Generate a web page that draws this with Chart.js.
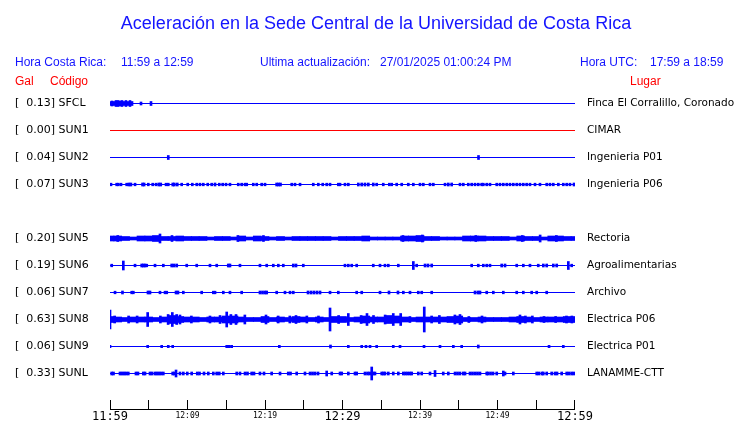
<!DOCTYPE html>
<html><head><meta charset="utf-8">
<script src="https://cdn.jsdelivr.net/npm/chart.js@4.4.1/dist/chart.umd.min.js"></script>
<style>html,body{margin:0;padding:0;background:#fff;}#wrap{width:740px;height:423px;}</style>
</head><body><div id="wrap"><canvas id="c" width="740" height="423"></canvas></div>
<script>
// ---------- DATA ----------
const title = 'Aceleración en la Sede Central de la Universidad de Costa Rica';
const headerLocal = ['Hora Costa Rica:', '11:59 a 12:59'];
const headerUpdate = ['Ultima actualización:', '27/01/2025 01:00:24 PM'];
const headerUtc = ['Hora UTC:', '17:59 a 18:59'];
const colHeads = ['Gal', 'Código', 'Lugar'];

const stations = ['SFCL','SUN1','SUN2','SUN3','SUN5','SUN6','SUN7','SUN8','SUN9','SUNL'];
const slots    = [0, 1, 2, 3, 5, 6, 7, 8, 9, 10];
const galPeaks = [0.13, 0.00, 0.04, 0.07, 0.20, 0.19, 0.06, 0.63, 0.06, 0.33];
const places   = ['Finca El Corralillo, Coronado','CIMAR','Ingenieria P01','Ingenieria P06','Rectoria','Agroalimentarias','Archivo','Electrica P06','Electrica P01','LANAMME-CTT'];
const timeLabels = ['11:59','12:09','12:19','12:29','12:39','12:49','12:59']; // every 10 min
const windowMinutes = 60;

// trace events: [minute after 11:59, half amplitude (counts)]
const sfclEvents = [[0,2],[0.26,2.5],[0.52,2],[0.77,3],[1.03,3],[1.29,2.5],[1.55,3],[1.81,2],[2.06,3],[2.32,2],[2.58,3],[2.84,2],[4.0,1.5],[5.29,2]];
const sun1Events = [];
const sun2Events = [[7.52,2],[47.55,2]];
const sun3Events = [[0.13,1.3],[0.86,1.3],[1.07,1.3],[1.42,1.3],[2.15,1.3],[2.45,1.5],[2.7,1.5],[3.23,1.3],[4.2,1.5],[4.4,1.5],[4.94,1.3],[5.51,1.3],[5.94,1.3],[6.3,1.5],[6.55,1.5],[7.23,1.3],[7.52,1.3],[8.1,1.5],[8.3,1.5],[8.68,1.5],[9.25,1.3],[10.03,1.3],[10.62,1.3],[11.19,1.3],[11.61,1.3],[12.04,1.3],[12.61,1.3],[13.12,1.3],[13.55,1.5],[14.1,1.3],[14.54,1.3],[14.97,1.3],[15.48,1.3],[16.55,1.3],[16.99,1.3],[17.42,1.3],[17.64,1.3],[18.49,1.3],[18.93,1.3],[19.57,1.3],[20.0,1.3],[21.5,1.5],[21.75,1.5],[22.0,1.5],[23.45,1.3],[23.87,1.3],[24.52,1.3],[26.23,1.3],[26.88,1.3],[27.45,1.3],[27.96,1.3],[28.39,1.3],[29.46,1.3],[29.68,1.3],[30.32,1.3],[30.75,1.3],[32.04,1.5],[32.48,1.5],[32.9,1.5],[33.33,1.5],[33.97,1.5],[34.41,1.3],[35.26,1.3],[36.04,1.3],[36.35,1.3],[36.99,1.3],[37.64,1.3],[38.49,1.3],[39.14,1.3],[40.0,1.3],[40.43,1.3],[41.29,1.3],[41.72,1.3],[43.23,1.3],[43.65,1.5],[44.09,1.5],[45.16,1.3],[45.59,1.3],[46.23,1.3],[46.67,1.3],[47.1,1.3],[47.52,1.3],[47.96,1.3],[48.17,1.3],[48.61,1.3],[49.03,1.3],[49.9,1.3],[50.32,1.3],[50.75,1.3],[51.19,1.3],[51.61,1.3],[52.04,1.3],[52.48,1.3],[52.9,1.3],[53.33,1.3],[53.76,1.3],[54.19,1.3],[54.84,1.3],[55.48,1.3],[56.35,1.3],[56.77,1.3],[57.2,1.3],[57.85,1.3],[58.49,1.3],[58.93,1.3],[59.35,1.3],[59.87,1.5]];
const sun5Envelope = [2.5,2.5,2,1.5,2.5,2.5,3,2,2,2.5, 2,2,2,1.5,2,2,1.5,2.5,1.5,2.5, 2,1.5,2,1.5,2,2,2,2,2,1.5, 2,2,2,2.5,1.5,1.5,1.5,1.5,2.5,2.5, 3,2,2,1.5,1.5,1.5,2.5,2.5,2.5,2, 2,2,1.5,2.5,2,2,1.5,2.5,2.5,2, 2];
const sun5Events = [[1.0,3],[6.45,4.5],[8.0,3],[16.5,3],[19.8,3],[37.8,3],[40.3,3.5],[47.2,3],[53.2,3],[55.5,3.5],[57.6,3]];
const sun6Events = [[0.22,1.3],[1.72,4.5],[3.23,1.3],[4.09,1.5],[4.3,1.5],[4.52,1.5],[4.74,1.3],[5.81,1.3],[6.88,1.3],[7.96,1.5],[8.26,1.5],[8.61,1.5],[9.9,1.3],[11.19,1.3],[12.9,1.3],[13.77,1.3],[15.26,1.5],[15.48,1.5],[16.77,1.3],[19.35,1.3],[20.22,1.3],[21.07,1.3],[21.72,1.3],[22.36,1.3],[23.65,1.5],[24.0,1.5],[24.94,1.3],[30.32,1.3],[30.75,1.3],[31.19,1.3],[31.83,1.3],[33.97,1.3],[34.84,1.3],[35.48,1.3],[35.91,1.3],[37.2,1.3],[39.14,4],[39.57,1.3],[40.65,1.5],[41.03,1.5],[41.51,1.5],[46.67,1.3],[47.52,1.3],[48.17,1.3],[48.61,1.3],[49.03,1.3],[50.54,1.5],[50.97,1.5],[52.48,1.3],[53.33,1.3],[54.19,1.3],[55.26,1.3],[55.91,1.5],[56.35,1.5],[57.2,1.5],[57.64,1.5],[59.14,4],[59.57,1.3]];
const sun7Events = [[0.65,1.3],[1.61,1.5],[2.8,1.3],[3.01,1.3],[4.9,1.5],[5.16,1.5],[6.45,1.3],[7.1,1.3],[7.32,1.3],[8.52,1.5],[8.77,1.5],[9.46,1.3],[11.83,1.3],[13.33,1.3],[13.55,1.3],[14.62,1.3],[15.48,1.3],[16.99,1.3],[19.35,1.5],[19.68,1.5],[20.0,1.5],[20.22,1.5],[21.51,1.3],[22.58,1.3],[23.23,1.3],[23.65,1.3],[25.55,1.5],[25.94,1.5],[26.32,1.5],[26.71,1.5],[27.1,1.5],[28.39,1.3],[29.46,1.3],[31.83,1.3],[32.48,1.3],[34.84,1.3],[36.0,1.5],[37.16,1.5],[37.85,1.3],[38.71,1.3],[39.78,1.3],[40.22,1.3],[41.51,1.3],[47.1,1.5],[47.48,1.5],[47.74,1.5],[48.61,1.3],[49.46,1.3],[50.75,1.3],[52.48,1.3],[53.33,1.3],[54.41,1.3],[55.06,1.3],[56.35,1.3]];
const sun8Envelope = [3,2.5,2,2.5,2.5,2.5,2,2.5,4,3, 2.5,2.5,2,2.5,2.5,3.5,3.5,2.5,2,2, 3,2,2.5,2,3,2.5,2,2.5,2,3, 3,2,2.5,3.5,2.5,2.5,4,3.5,2.5,2, 2.5,2.5,2.5,2.5,3,3.5,2,2,2.5,2, 2,2,2.5,3,2.5,2,2.5,2.5,2.5,3, 3];
const sun8Events = [[0,9.5],[0.6,3.5],[2.4,3.5],[3.5,3.5],[4.86,7],[6.5,3.5],[7.5,5],[8.04,7],[8.6,5],[9.03,4.5],[10.5,3.5],[12.9,3.5],[14.2,4],[15.06,7.5],[15.6,5],[16.26,5],[17.4,4.5],[20.13,4.5],[21.7,3.5],[23.2,3.5],[24.0,4],[25.4,3.5],[26.9,3.5],[28.39,11.5],[29.5,4],[30.75,6],[32.4,4],[33.16,6],[34.0,4],[35.5,4.5],[36.55,6],[37.51,6],[38.7,3],[40.55,12.5],[41.5,3.5],[42.5,4],[44.5,4.5],[45.16,5],[46.3,3],[48.0,3.5],[52.9,4.5],[53.6,3.5],[54.5,3.5],[56.0,3],[57.5,3],[58.9,3.5],[59.6,3.5]];
const sun9Events = [[0,1.2],[4.86,1.2],[6.67,1.2],[7.52,1.2],[8.09,1.2],[15.06,1.2],[15.39,1.2],[15.7,1.2],[21.85,1.2],[28.45,1.5],[30.75,1.2],[32.48,1.2],[33.03,1.2],[33.55,1.2],[34.41,1.2],[36.55,1.2],[37.42,1.2],[40.52,1.2],[42.58,1.2],[44.3,1.2],[45.38,1.2],[47.52,1.5],[56.65,1.2],[58.49,1.2]];
const sunlEvents = [[0.22,1.5],[0.45,1.5],[1.29,1.5],[1.55,1.5],[1.81,1.5],[2.06,1.5],[2.36,1.5],[3.35,1.5],[3.61,1.5],[4.3,1.5],[4.52,1.5],[5.16,1.5],[5.42,1.5],[5.81,1.5],[6.06,1.5],[6.32,1.5],[6.58,1.5],[6.88,1.5],[8.09,1.5],[8.32,1.5],[8.52,3.5],[9.03,1.5],[9.46,1.5],[9.97,1.5],[10.54,1.5],[11.26,1.5],[11.55,1.5],[12.13,1.5],[12.68,1.5],[13.33,1.5],[13.77,1.5],[14.1,1.5],[14.62,1.5],[16.35,1.5],[16.77,1.5],[17.42,1.5],[17.74,1.5],[18.28,1.5],[18.58,1.5],[19.35,1.5],[19.87,1.5],[20.86,1.5],[21.94,1.5],[23.0,1.5],[23.29,1.5],[24.09,1.5],[25.16,1.5],[25.81,1.5],[26.13,1.5],[26.45,1.5],[26.84,1.5],[27.96,2.5],[28.61,1.5],[29.68,1.5],[29.9,1.5],[30.75,1.5],[31.61,1.5],[31.83,1.5],[32.9,1.5],[33.23,1.5],[33.5,1.5],[33.77,6.5],[33.97,1.5],[34.19,1.5],[35.06,1.5],[35.29,1.5],[35.48,1.5],[35.91,1.5],[36.55,1.5],[37.2,1.5],[37.85,1.5],[38.13,1.5],[38.41,1.5],[38.71,1.5],[38.93,1.5],[39.78,1.5],[40.22,1.5],[41.29,1.5],[41.94,3],[43.0,1.5],[43.65,1.5],[44.52,1.5],[44.84,1.5],[45.16,1.5],[45.59,1.5],[45.81,1.5],[46.45,1.5],[46.77,1.5],[47.1,1.5],[47.42,1.5],[47.74,1.5],[48.61,1.5],[48.77,1.5],[49.1,1.5],[49.42,1.5],[49.9,1.5],[50.75,2.5],[50.97,1.5],[52.04,1.5],[55.06,1.5],[55.35,1.5],[55.74,1.5],[55.91,1.5],[56.35,1.5],[56.99,1.5],[57.42,1.5],[57.68,1.5],[58.28,1.5],[58.93,1.5],[59.23,1.5],[59.57,1.5],[59.87,1.5]];

const eventsByStation = {SFCL: sfclEvents, SUN1: sun1Events, SUN2: sun2Events, SUN3: sun3Events, SUN5: sun5Events, SUN6: sun6Events, SUN7: sun7Events, SUN8: sun8Events, SUN9: sun9Events, SUNL: sunlEvents};
const envelopeByStation = {SUN5: sun5Envelope, SUN8: sun8Envelope};

// ---------- STYLE / BUILD ----------
const BLUE = '#0000ff', RED = '#ff0000', TEXT_BLUE = '#1414ff';
const COUNTS_PER_ROW = 27;
const ROW0_PX = 103.5, ROW_PX = 27, AXIS_PX = 409;
const datasets = [];
stations.forEach((code, i) => {
  const row = slots[i];
  const color = code === 'SUN1' ? RED : BLUE;
  const toBar = (t, a) => ({x: t, y: [row - a / COUNTS_PER_ROW, row + a / COUNTS_PER_ROW]});
  datasets.push({type: 'line', data: [{x: 0, y: row}, {x: windowMinutes, y: row}], borderColor: color, borderWidth: 1, pointRadius: 0, pointHoverRadius: 0, yAxisID: 'y', xAxisID: 'x'});
  const env = envelopeByStation[code];
  if (env) datasets.push({type: 'bar', data: env.map((a, m) => toBar(m, a)), backgroundColor: color, borderWidth: 0, barThickness: 8, grouped: false, yAxisID: 'y', xAxisID: 'x'});
  const ev = eventsByStation[code];
  if (ev.length) datasets.push({type: 'bar', data: ev.map(([t, a]) => toBar(t, a)), backgroundColor: color, borderWidth: 0, barThickness: 2, grouped: false, yAxisID: 'y', xAxisID: 'x'});
});

const leftLabel = v => { const i = slots.indexOf(v); return i < 0 ? '' : '[' + galPeaks[i].toFixed(2).padStart(6, ' ') + '] ' + stations[i]; };
const rightLabel = v => { const i = slots.indexOf(v); return i < 0 ? '' : places[i]; };
const rowTicks = s => { s.ticks = slots.map(v => ({value: v})); };

const decor = {
  id: 'decor',
  afterDraw(chart) {
    const ctx = chart.ctx, xs = chart.scales.x, area = chart.chartArea;
    ctx.save();
    ctx.strokeStyle = '#000'; ctx.lineWidth = 1;
    // axis line and tick marks pointing up
    ctx.beginPath(); ctx.moveTo(area.left, AXIS_PX + 0.5); ctx.lineTo(area.right, AXIS_PX + 0.5); ctx.stroke();
    for (let v = 0; v <= windowMinutes; v += 5) {
      const px = Math.floor(Math.min(xs.getPixelForValue(v), area.right - 0.5)) + 0.5;
      ctx.beginPath(); ctx.moveTo(px, AXIS_PX - 9); ctx.lineTo(px, AXIS_PX + 1); ctx.stroke();
    }
    ctx.textBaseline = 'alphabetic';
    ctx.fillStyle = TEXT_BLUE;
    ctx.font = '18px "Liberation Sans", Arial, sans-serif';
    ctx.textAlign = 'center';
    ctx.fillText(title, 376, 29);
    ctx.textAlign = 'left';
    ctx.font = '12px "Liberation Sans", Arial, sans-serif';
    ctx.fillText(headerLocal[0], 15, 65.5);
    ctx.fillText(headerLocal[1], 121, 65.5);
    ctx.fillText(headerUpdate[0], 260, 65.5);
    ctx.fillText(headerUpdate[1], 380, 65.5);
    ctx.fillText(headerUtc[0], 580, 65.5);
    ctx.fillText(headerUtc[1], 650, 65.5);
    ctx.fillStyle = RED;
    ctx.fillText(colHeads[0], 15, 85);
    ctx.fillText(colHeads[1], 50, 85);
    ctx.fillText(colHeads[2], 630, 85);
    ctx.restore();
  }
};

const chart = new Chart(document.getElementById('c'), {
  type: 'bar',
  data: {datasets},
  plugins: [decor],
  options: {
    responsive: false, animation: false, devicePixelRatio: 1,
    layout: {padding: {left: 15, right: 0, top: 90, bottom: 0}, autoPadding: false},
    plugins: {legend: {display: false}, tooltip: {enabled: false}, title: {display: false}},
    scales: {
      x: {
        type: 'linear', position: 'bottom', min: 0, max: windowMinutes, offset: false,
        grid: {display: false, drawTicks: false},
        border: {display: false},
        ticks: {
          stepSize: 5, autoSkip: false, maxRotation: 0, minRotation: 0, padding: 0, color: '#000',
          callback: v => (v % 10 === 0 ? timeLabels[v / 10] : ''),
          font: c => (c.tick && c.tick.value % 30 === 0)
            ? {family: '"DejaVu Sans Mono"', size: 12, lineHeight: 1.25}
            : {family: '"DejaVu Sans Mono"', size: 8, lineHeight: 1.625}
        },
        afterFit: s => { s.height = 19; }
      },
      y: {
        type: 'linear', position: 'left', min: -0.5, max: 11.3, reverse: true,
        grid: {display: false, drawTicks: false}, border: {display: false},
        afterBuildTicks: rowTicks,
        ticks: {autoSkip: false, crossAlign: 'far', padding: 0, color: '#000', font: {family: '"DejaVu Sans"', size: 11}, callback: leftLabel},
        afterFit: s => { s.width = 95; }
      },
      yR: {
        type: 'linear', position: 'right', min: -0.5, max: 11.3, reverse: true,
        grid: {display: false, drawTicks: false}, border: {display: false},
        afterBuildTicks: rowTicks,
        ticks: {autoSkip: false, crossAlign: 'near', padding: 12, color: '#000', font: {family: '"DejaVu Sans"', size: 10.5}, callback: rightLabel},
        afterFit: s => { s.width = 165; }
      }
    }
  }
});
// pin rows and time labels to the reference pixel grid, whatever the layout gave
function align() {
  const a = chart.chartArea;
  const lo = (a.top - ROW0_PX) / ROW_PX, hi = (a.bottom - ROW0_PX) / ROW_PX;
  ['y', 'yR'].forEach(id => { chart.options.scales[id].min = lo; chart.options.scales[id].max = hi; });
  chart.options.scales.x.ticks.padding = Math.max(0, AXIS_PX - a.bottom);
  chart.update();
}
align(); align();
</script></body></html>
